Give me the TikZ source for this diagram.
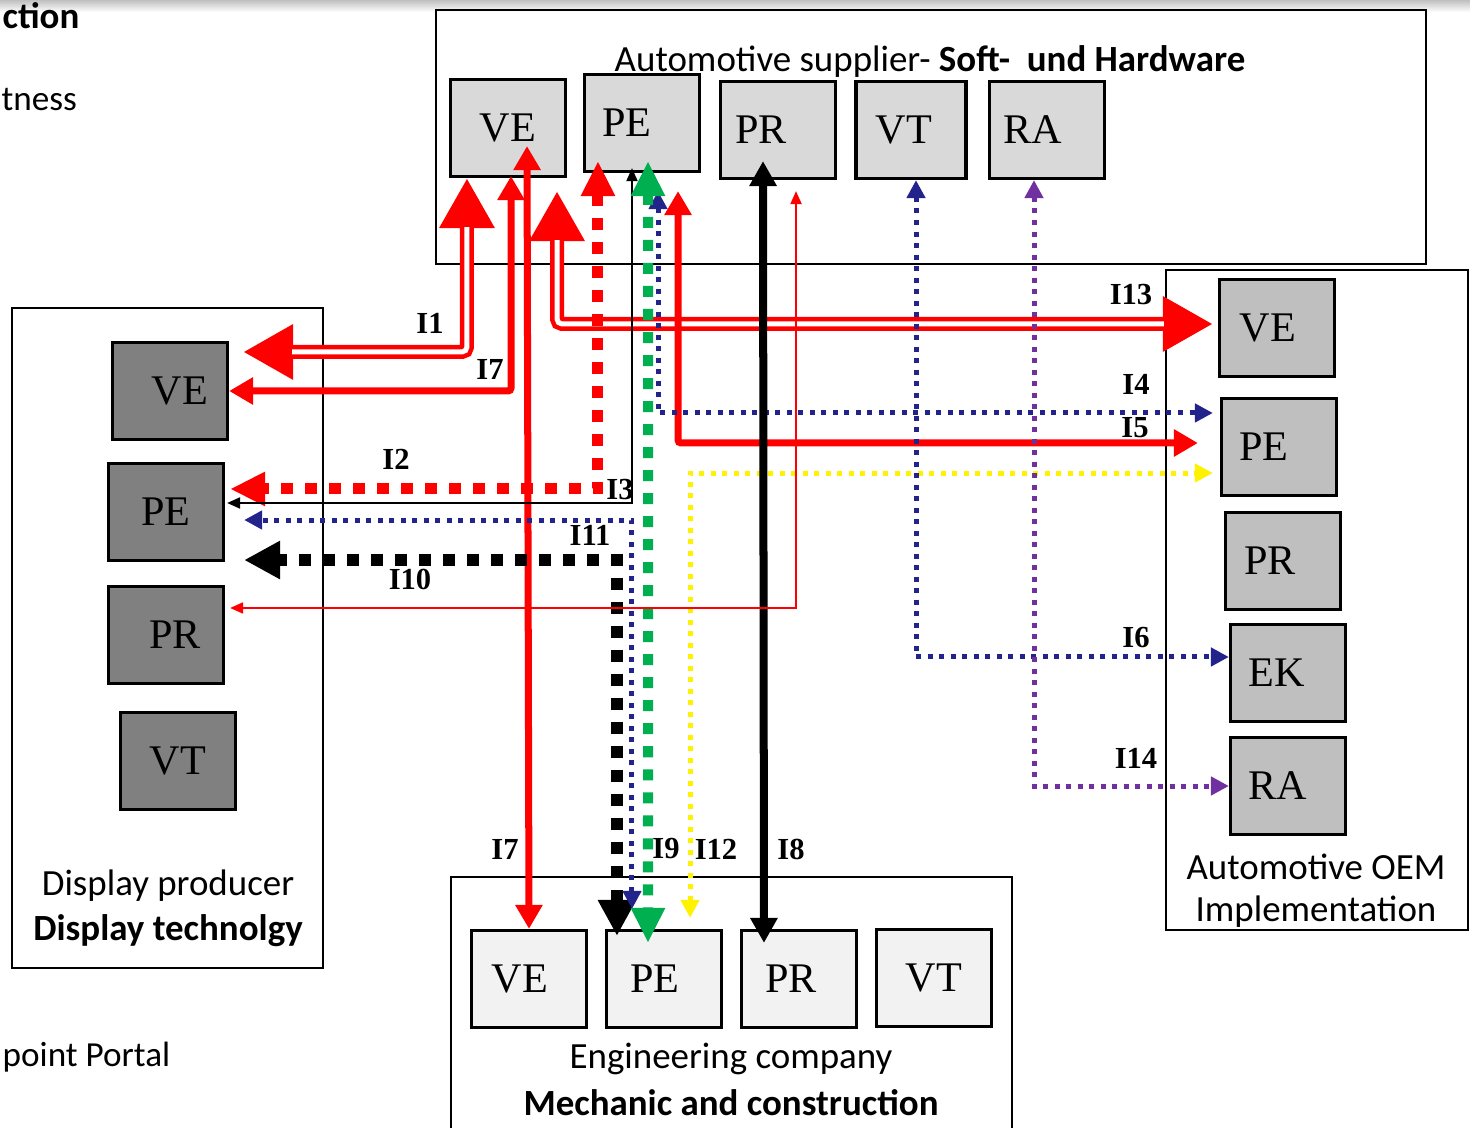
\documentclass[tikz,border=0pt]{standalone}
\usepackage{fontspec}
\setmainfont{Liberation Serif}
\newfontfamily\calfont{Carlito}
\usetikzlibrary{arrows.meta}

\definecolor{supgray}{HTML}{D9D9D9}
\definecolor{dispgray}{HTML}{808080}
\definecolor{oemgray}{HTML}{BFBFBF}
\definecolor{enggray}{HTML}{F2F2F2}
\definecolor{navyb}{HTML}{23238C}
\definecolor{dgreen}{HTML}{00B050}
\definecolor{purp}{HTML}{7030A0}

\begin{document}
\begin{tikzpicture}[
    x=0.01cm, y=-0.01cm,
    frame/.style={draw, line width=0.6pt},
    box/.style={rectangle, draw, line width=0.9pt, minimum width=1.15cm, minimum height=0.97cm, font=\fontsize{12}{14}\selectfont},
    supbox/.style={box, fill=supgray},
    dispbox/.style={box, fill=dispgray},
    oembox/.style={box, fill=oemgray},
    engbox/.style={box, fill=enggray},
    title/.style={font=\calfont\fontsize{10.5}{12}\selectfont, inner sep=0pt},
    iname/.style={font=\fontsize{8.7}{10}\selectfont\bfseries, inner sep=0pt},
    dbl/.style={draw=red, line width=0.14cm, rounded corners=0.05cm, >={Triangle[length=0.5cm,width=0.52cm]}, <->,
        postaction={draw=white, line width=0.05cm, -, shorten <=0.49cm, shorten >=0.49cm}},
    solidred/.style={draw=red, line width=0.07cm, rounded corners=0.03cm, >={Triangle[length=0.24cm,width=0.26cm]}, <->},
    heavyblack/.style={draw=black, line width=0.08cm, >={Triangle[length=0.25cm,width=0.26cm]}, <->},
    thinred/.style={draw=red, line width=0.02cm, >={Triangle[length=0.13cm,width=0.11cm]}, <->},
    thinblack/.style={draw=black, line width=0.02cm, >={Triangle[length=0.13cm,width=0.11cm]}, <->},
    reddots/.style={draw=red, line width=0.11cm, dash pattern=on 0.12cm off 0.12cm, >={Triangle[length=0.35cm,width=0.32cm]}, <->},
    blackdots/.style={draw=black, line width=0.12cm, dash pattern=on 0.12cm off 0.12cm, >={Triangle[length=0.36cm,width=0.36cm]}, <->},
    greendots/.style={draw=dgreen, line width=0.1cm, dash pattern=on 0.11cm off 0.12cm, >={Triangle[length=0.35cm,width=0.32cm]}, <->},
    finedots/.style={line width=0.05cm, dash pattern=on 0.05cm off 0.065cm, >={Triangle[length=0.18cm,width=0.18cm]}, <->}
]
\useasboundingbox (0,0) rectangle (1470,1128);
\shade[top color=black!25, bottom color=white] (0,0) rectangle (1470,12);

% Slide text behind
\node[title, anchor=west] (cutA) at (2,16) {\bfseries ction};
\node[title, font=\calfont\fontsize{10}{12}\selectfont, anchor=west] (cutB) at (1,100) {tness};
\node[title, font=\calfont\fontsize{10}{12}\selectfont, anchor=west] (cutC) at (2,1057) {point Portal};

% Frames
\draw[frame] (436,10) rectangle (1426,264);
\draw[frame] (12,308) rectangle (323,968);
\draw[frame] (1166,270) rectangle (1468,930);
\draw[frame] (451,877) rectangle (1012,1140);

\node[title] (supTitle) at (930,62) {Automotive supplier- \textbf{Soft-\ \ und Hardware}};
\node[title] (dispA) at (168,886) {Display producer};
\node[title] (dispB) at (168,931) {\bfseries Display technolgy};
\node[title] (oemA) at (1316,867) {Automotive OEM};
\node[title] (oemB) at (1316,912) {Implementation};
\node[title] (engA) at (731,1059) {Engineering company};
\node[title] (engB) at (731,1103) {\bfseries Mechanic and construction};

% Supplier
\node[supbox] (sVE) at (508,128) {VE};
\node[supbox] (sPE) at (642,123) {\hspace*{-0.3cm}PE};
\node[supbox] (sPR) at (778,130) {\hspace*{-0.34cm}PR};
\node[supbox, minimum width=1.1cm] (sVT) at (911,130) {\hspace*{-0.14cm}VT};
\node[supbox] (sRA) at (1047,130) {\hspace*{-0.28cm}RA};

% Display producer
\node[dispbox] (dVE) at (170,391) {\hspace*{0.2cm}VE};
\node[dispbox] (dPE) at (166,512) {PE};
\node[dispbox] (dPR) at (166,635) {\hspace*{0.18cm}PR};
\node[dispbox] (dVT) at (178,761) {VT};

% OEM
\node[oembox] (oVE) at (1277,328) {\hspace*{-0.18cm}VE};
\node[oembox] (oPE) at (1279,447) {\hspace*{-0.3cm}PE};
\node[oembox] (oPR) at (1283,561) {\hspace*{-0.26cm}PR};
\node[oembox] (oEK) at (1288,673) {\hspace*{-0.22cm}EK};
\node[oembox] (oRA) at (1288,786) {\hspace*{-0.2cm}RA};

% Engineering company
\node[engbox] (eVE) at (529,979) {\hspace*{-0.18cm}VE};
\node[engbox] (ePE) at (664,979) {\hspace*{-0.18cm}PE};
\node[engbox] (ePR) at (799,979) {\hspace*{-0.16cm}PR};
\node[engbox] (eVT) at (934,978) {VT};

% Interfaces
\draw[dbl] ([xshift=-0.41cm]sVE.south) |- ([xshift=0.14cm,yshift=0.39cm]dVE.east);
\draw[dbl] ([xshift=0.49cm,yshift=-0.13cm]sVE.south) |- ([xshift=-0.05cm,yshift=0.04cm]oVE.west);
\draw[solidred] ([xshift=0.03cm,yshift=0.02cm]sVE.south) |- (dVE.east);
\draw[solidred] ([xshift=0.19cm,yshift=0.32cm]sVE.south) -- (eVE.north);
\draw[solidred] ([xshift=0.36cm,yshift=-0.18cm]sPE.south) |- ([xshift=-0.22cm,yshift=0.04cm]oPE.west);
\draw[reddots] ([xshift=-0.44cm,yshift=0.12cm]sPE.south) |- ([xshift=0.05cm,yshift=0.23cm]dPE.east);
\draw[thinblack] ([xshift=-0.1cm,yshift=0.05cm]sPE.south) |- ([xshift=0.02cm,yshift=0.09cm]dPE.east);
\draw[finedots, draw=navyb] ([xshift=0.16cm,yshift=-0.18cm]sPE.south) |- ([xshift=-0.07cm,yshift=0.34cm]oPE.west);
\draw[blackdots] ([xshift=-0.47cm,yshift=-0.07cm]ePE.north) |- ([xshift=0.19cm,yshift=-0.48cm]dPE.east);
\draw[finedots, draw=navyb] ([xshift=-0.32cm,yshift=0.2cm]ePE.north) |- ([xshift=0.19cm,yshift=-0.08cm]dPE.east);
\draw[greendots] ([xshift=0.06cm,yshift=0.12cm]sPE.south) -- ([xshift=-0.16cm,yshift=-0.14cm]ePE.north);
\draw[finedots, draw=yellow] ([xshift=0.26cm,yshift=0.11cm]ePE.north) |- ([xshift=-0.07cm,yshift=-0.26cm]oPE.west);
\draw[heavyblack] ([xshift=-0.15cm,yshift=0.19cm]sPR.south) -- ([xshift=-0.35cm,yshift=-0.14cm]ePR.north);
\draw[thinred] ([xshift=0.18cm,yshift=-0.11cm]sPR.south) |- ([xshift=0.05cm,yshift=0.27cm]dPR.east);
\draw[finedots, draw=navyb] ([xshift=0.05cm]sVT.south) |- ([yshift=0.16cm]oEK.west);
\draw[finedots, draw=purp] ([xshift=-0.13cm]sRA.south) |- (oRA.west);

% Names
\node[iname] (nI1) at (430,323) {I1};
\node[iname] (nI7a) at (490,369) {I7};
\node[iname] (nI13) at (1131,295) {I13};
\node[iname] (nI4) at (1136,384) {I4};
\node[iname] (nI5) at (1135,428) {I5};
\node[iname] (nI2) at (396,459) {I2};
\node[iname] (nI3) at (620,490) {I3};
\node[iname] (nI11) at (590,535) {I11};
\node[iname] (nI10) at (410,579) {I10};
\node[iname] (nI6) at (1136,638) {I6};
\node[iname] (nI14) at (1136,758) {I14};
\node[iname] (nI7b) at (505,849) {I7};
\node[iname] (nI9) at (666,849) {I9};
\node[iname] (nI12) at (716,849) {I12};
\node[iname] (nI8) at (791,849) {I8};

\end{tikzpicture}
\end{document}
